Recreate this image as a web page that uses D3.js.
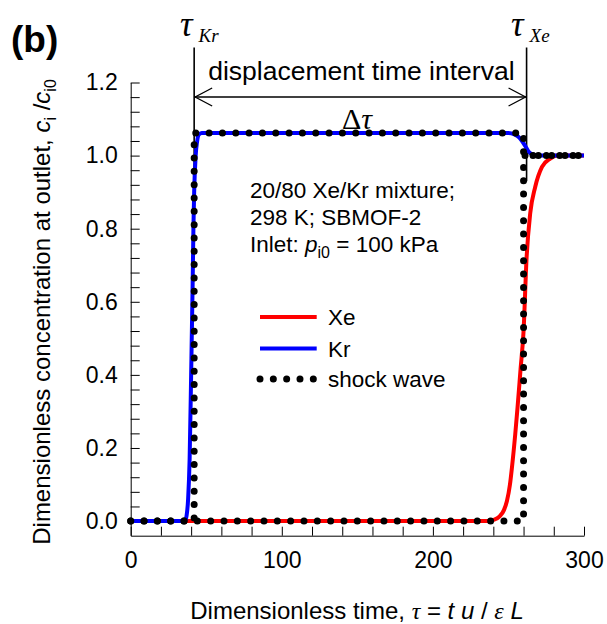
<!DOCTYPE html>
<html>
<head>
<meta charset="utf-8">
<script src="https://cdn.jsdelivr.net/npm/d3@7/dist/d3.min.js"></script>
<style>
  body { margin: 0; background: #fff; }
  text { font-family: "Liberation Sans", Arial, sans-serif; fill: #000; }
  .serif { font-family: "Liberation Serif", "Times New Roman", serif; }
</style>
</head>
<body>
<div id="divchart"></div>
<script>
//Kr breakthrough curve (blue)
var krTau = [0, 36, 37, 38, 39, 40, 41, 41.5, 42, 43, 44, 45, 47, 250, 254, 257, 259, 261, 263, 265, 268, 270, 300]
var krC   = [0, 0, 0.015, 0.06, 0.17, 0.4, 0.65, 0.8, 0.9, 1.0, 1.04, 1.057, 1.062, 1.062, 1.058, 1.05, 1.04, 1.027, 1.013, 1.005, 1.001, 1.0, 1.0]

//Xe breakthrough curve (red)
var xeTau = [0, 236, 240, 244, 247, 249, 251, 252.3, 254.5, 256, 258, 260, 262, 264.4, 267.7, 272.2, 277.7, 282, 300]
var xeC   = [0, 0, 0.003, 0.012, 0.03, 0.055, 0.1, 0.146, 0.238, 0.31, 0.415, 0.52, 0.72, 0.842, 0.914, 0.969, 0.992, 1.0, 1.0]

//Shock wave solutions (dotted)
var shockKrTau = [0, 42, 42, 260, 260, 300]
var shockKrC   = [0, 0, 1.062, 1.062, 1.0, 1.0]
var shockXeTau = [0, 260, 260, 300]
var shockXeC   = [0, 0, 1.0, 1.0]

//Characteristic times marked on top
var tauKr = 42
var tauXe = 262

//Axis ticks
var xTickLabels = [0, 100, 200, 300]
var yTickLabels = [0.0, 0.2, 0.4, 0.6, 0.8, 1.0, 1.2]
var xMinorStep = 20
var yMinorStep = 0.04

var width = 607
var height = 624
var margin = {top: 82.5, left: 130.7, right: 23, bottom: 88.3}

var svg = d3.select("#divchart")
  .append("svg")
  .attr("width", width)
  .attr("height", height)

var innerW = width - margin.left - margin.right
var innerH = height - margin.top - margin.bottom

var x = d3.scaleLinear().domain([0, 300]).range([margin.left, margin.left + innerW])
var y = d3.scaleLinear().domain([-0.04, 1.2]).range([margin.top + innerH, margin.top])

//tick positions (labels only on the major ones)
var xTicks = d3.range(0, 300 + 1e-9, xMinorStep)
var yTicks = d3.range(1, 32).map(function(i){ return +(-0.04 + i * yMinorStep).toFixed(2) })

var xAxis = d3.axisBottom(x)
  .tickValues(xTicks)
  .tickSizeInner(-9)
  .tickSizeOuter(0)
  .tickPadding(16)
  .tickFormat(function(d){ return xTickLabels.indexOf(d) >= 0 ? d : "" })

var yAxis = d3.axisLeft(y)
  .tickValues(yTicks)
  .tickSizeInner(-9)
  .tickSizeOuter(0)
  .tickPadding(13)
  .tickFormat(function(d){
    var hit = yTickLabels.filter(function(t){ return Math.abs(t - d) < 1e-6 })
    return hit.length ? d3.format(".1f")(d) : ""
  })

var gx = svg.append("g")
  .attr("transform", "translate(0," + y(-0.04) + ")")
  .call(xAxis)
var gy = svg.append("g")
  .attr("transform", "translate(" + x(0) + ",0)")
  .call(yAxis)

svg.selectAll(".tick text").style("font-size", "23px").style("font-family", '"Liberation Sans", Arial, sans-serif')
svg.selectAll(".domain, .tick line").attr("stroke", "#000").attr("stroke-width", 1)

//Make point arrays from the named lists
function zipData(t, c) {
  var out = []
  for (i = 0; i < t.length; i++) { out.push([t[i], c[i]]) }
  return out
}

var smooth = d3.line().x(function(d){ return x(d[0]) }).y(function(d){ return y(d[1]) }).curve(d3.curveMonotoneX)
var straight = d3.line().x(function(d){ return x(d[0]) }).y(function(d){ return y(d[1]) })

//Vertical marker lines for tau_Kr and tau_Xe
svg.append("line").attr("x1", x(tauKr)).attr("x2", x(tauKr)).attr("y1", 47.5).attr("y2", y(0.93))
  .attr("stroke", "#000").attr("stroke-width", 1.6)
svg.append("line").attr("x1", x(tauXe)).attr("x2", x(tauXe)).attr("y1", 47.5).attr("y2", y(0.93))
  .attr("stroke", "#000").attr("stroke-width", 1.6)

//Double arrow for the displacement interval
var arrowY = 97
svg.append("line").attr("x1", x(tauKr)).attr("x2", x(tauXe)).attr("y1", arrowY).attr("y2", arrowY)
  .attr("stroke", "#000").attr("stroke-width", 1.3)
svg.append("path")
  .attr("d", "M" + (x(tauKr) + 18) + "," + (arrowY - 9) + "L" + (x(tauKr) + 1) + "," + arrowY + "L" + (x(tauKr) + 18) + "," + (arrowY + 9))
  .attr("fill", "none").attr("stroke", "#000").attr("stroke-width", 1.3)
svg.append("path")
  .attr("d", "M" + (x(tauXe) - 18) + "," + (arrowY - 9) + "L" + (x(tauXe) - 1) + "," + arrowY + "L" + (x(tauXe) - 18) + "," + (arrowY + 9))
  .attr("fill", "none").attr("stroke", "#000").attr("stroke-width", 1.3)

svg.append("text").attr("x", (x(tauKr) + x(tauXe)) / 2 + 1).attr("y", 80).attr("text-anchor", "middle")
  .style("font-size", "26.5px").text("displacement time interval")

var dt = svg.append("text").attr("class", "serif").attr("x", 342).attr("y", 129).style("font-size", "30px")
dt.append("tspan").text("\u0394")
dt.append("tspan").style("font-style", "italic").text("\u03C4")

//tau labels
var tk = svg.append("text").attr("class", "serif").attr("x", 180).attr("y", 36).style("font-size", "35px").style("font-style", "italic")
tk.append("tspan").text("\u03C4")
tk.append("tspan").attr("dx", 6).attr("dy", 6).style("font-size", "19px").text("Kr")
var tx = svg.append("text").attr("class", "serif").attr("x", 511).attr("y", 36).style("font-size", "35px").style("font-style", "italic")
tx.append("tspan").text("\u03C4")
tx.append("tspan").attr("dx", 6).attr("dy", 6).style("font-size", "19px").text("Xe")

//Curves: red first, blue on top, shock dots above
svg.append("path").attr("d", smooth(zipData(xeTau, xeC)))
  .attr("fill", "none").attr("stroke", "#ff0000").attr("stroke-width", 4)
svg.append("path").attr("d", smooth(zipData(krTau, krC)))
  .attr("fill", "none").attr("stroke", "#0000ff").attr("stroke-width", 4)

var dotStyle = function(sel) {
  sel.attr("fill", "none").attr("stroke", "#000").attr("stroke-width", 7)
    .attr("stroke-linecap", "round").attr("stroke-dasharray", "0,13.33")
}
svg.append("path").attr("d", straight(zipData(shockXeTau, shockXeC))).call(dotStyle)
svg.append("path").attr("d", straight(zipData(shockKrTau, shockKrC))).call(dotStyle)

//Conditions text
var infoX = 250
svg.append("text").attr("x", infoX).attr("y", 198).style("font-size", "22.5px").text("20/80 Xe/Kr mixture;")
svg.append("text").attr("x", infoX).attr("y", 225).style("font-size", "22.5px").text("298 K; SBMOF-2")
var inl = svg.append("text").attr("x", infoX).attr("y", 252).style("font-size", "22.5px")
inl.append("tspan").text("Inlet: ")
inl.append("tspan").style("font-style", "italic").text("p")
inl.append("tspan").attr("dy", 6).style("font-size", "16px").text("i0")
inl.append("tspan").attr("dy", -6).text(" = 100 kPa")

//Legend
var legend = [
  {name: "Xe", color: "#ff0000", yy: 317},
  {name: "Kr", color: "#0000ff", yy: 348.5},
  {name: "shock wave", color: "#000", yy: 379}
]
legend.forEach(function(l, i) {
  var ln = svg.append("line").attr("x1", 260).attr("x2", 316.7).attr("y1", l.yy).attr("y2", l.yy)
  if (i < 2) { ln.attr("stroke", l.color).attr("stroke-width", 4) }
  else { ln.call(dotStyle) }
  svg.append("text").attr("x", 328).attr("y", l.yy + 8).style("font-size", "22.5px").text(l.name)
})

//Panel label
svg.append("text").attr("x", 11).attr("y", 52).style("font-size", "37px").style("font-weight", "bold").text("(b)")

//X axis title
var xt = svg.append("text").attr("x", 357).attr("y", 619).attr("text-anchor", "middle").style("font-size", "24px")
xt.append("tspan").text("Dimensionless time, ")
xt.append("tspan").attr("class", "serif").style("font-style", "italic").text("\u03C4")
xt.append("tspan").text(" = ")
xt.append("tspan").style("font-style", "italic").text("t u")
xt.append("tspan").text(" / ")
xt.append("tspan").attr("class", "serif").style("font-style", "italic").text("\u03B5")
xt.append("tspan").style("font-style", "italic").text(" L")

//Y axis title
var yt = svg.append("text").attr("transform", "translate(50,312) rotate(-90)").attr("text-anchor", "middle").style("font-size", "24px")
yt.append("tspan").text("Dimensionless concentration at outlet, ")
yt.append("tspan").style("font-style", "italic").text("c")
yt.append("tspan").attr("dy", 6).style("font-size", "16px").text("i")
yt.append("tspan").attr("dy", -6).text(" /")
yt.append("tspan").style("font-style", "italic").text("c")
yt.append("tspan").attr("dy", 6).style("font-size", "16px").text("i0")
</script>
</body>
</html>
